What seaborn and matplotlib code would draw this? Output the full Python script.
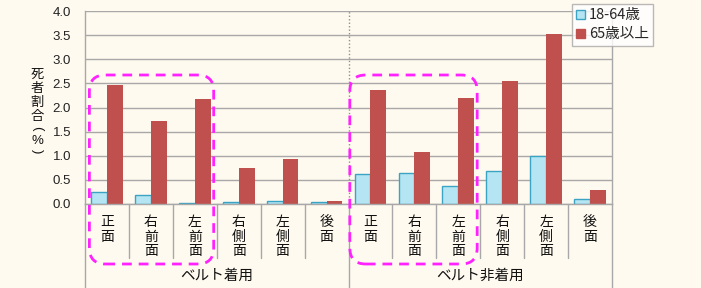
import matplotlib
matplotlib.use("Agg")
import matplotlib.pyplot as plt
import seaborn as sns
import pandas as pd
from matplotlib.patches import FancyBboxPatch, Patch

directions = ["正面", "右前面", "左前面", "右側面", "左側面", "後面"]
groups = ["ベルト着用", "ベルト非着用"]
series = ["18-64歳", "65歳以上"]
young_belt = [0.24, 0.19, 0.03, 0.05, 0.07, 0.04]
old_belt = [2.47, 1.72, 2.18, 0.75, 0.93, 0.06]
young_nobelt = [0.62, 0.64, 0.37, 0.69, 0.99, 0.10]
old_nobelt = [2.36, 1.08, 2.19, 2.54, 3.52, 0.30]
yticks = [0.0, 0.5, 1.0, 1.5, 2.0, 2.5, 3.0, 3.5, 4.0]
ylabel_chars = ["死", "者", "割", "合", "(", "%", ")"]

sns.set_theme(style="white")
plt.rcParams["font.family"] = ["Noto Sans CJK JP", "DejaVu Sans"]

BG = "#FFFAEF"
keys = [f"{g}|{d}" for g in groups for d in directions]
rows = []
for gi, g in enumerate(groups):
    yv = young_belt if gi == 0 else young_nobelt
    ov = old_belt if gi == 0 else old_nobelt
    for di, d in enumerate(directions):
        rows.append({"key": f"{g}|{d}", "series": series[0], "val": yv[di]})
        rows.append({"key": f"{g}|{d}", "series": series[1], "val": ov[di]})
df = pd.DataFrame(rows)

fig = plt.figure(figsize=(7.01, 2.88), dpi=100, facecolor=BG)
ax = fig.add_axes([85/701, 84/288, (612-85)/701, (204-11)/288])
ax.set_facecolor(BG)

sns.barplot(data=df, x="key", y="val", hue="series", order=keys, hue_order=series,
            palette={series[0]: "#B5E5F3", series[1]: "#C0504D"}, width=0.72,
            saturation=1, ax=ax, legend=False)
for p in ax.patches[:12]:
    p.set_edgecolor("#3BA3C3")
    p.set_linewidth(1.0)
for p in ax.patches[12:]:
    p.set_edgecolor("#C0504D")
    p.set_linewidth(0)

ax.set_ylim(0, 4.0)
ax.set_xlim(-0.5, 11.5)
ax.set_yticks(yticks)
ax.set_yticklabels([f"{v:.1f}" for v in yticks], fontsize=9.5, color="#222222",
                   family=["Liberation Sans"])
ax.tick_params(axis="y", length=0, pad=10)
ax.set_xticks([])
ax.set_xlabel("")
ax.set_ylabel("")
ax.yaxis.grid(True, color="#A8A8A8", linewidth=1.0)
ax.set_axisbelow(True)
for s in ["left", "right", "bottom"]:
    ax.spines[s].set_color("#A8A8A8")
    ax.spines[s].set_linewidth(1.0)
ax.spines["top"].set_visible(False)

# dotted group divider inside plot
ax.axvline(5.5, color="#909090", linestyle=(0, (1, 1.5)), linewidth=1.0)

xt = ax.get_xaxis_transform()
axh = (204 - 11)
for i in range(12):
    bnd = i - 0.5
    if bnd in (-0.5, 5.5):
        continue
    ax.plot([bnd, bnd], [0, -(258 - 204) / axh], transform=xt, color="#A8A8A8",
            linewidth=1.0, clip_on=False)
for bnd in (-0.5, 5.5, 11.5):
    ax.plot([bnd, bnd], [0, -(290 - 204) / axh], transform=xt, color="#A8A8A8",
            linewidth=1.0, clip_on=False)

# category labels: one upright character per line
for i, k in enumerate(keys):
    d = k.split("|")[1]
    for j, ch in enumerate(d):
        ycen = 222 + j * 14.6
        ax.text(i, -(ycen - 204) / axh, ch, transform=xt, ha="center", va="center",
                fontsize=10, color="#111111")
for gi, g in enumerate(groups):
    ax.text(2.5 + 6 * gi, -(276 - 204) / axh, g, transform=xt, ha="center",
            va="center", fontsize=10.5, color="#111111")

# y label, stacked vertical (parentheses turned for vertical writing)
ylab_y = [74.5, 88.5, 102.5, 116.5, 128.5, 141, 151.5]
for ch, yy in zip(ylabel_chars, ylab_y):
    rot = -90 if ch in "()" else 0
    fig.text(37/701, 1 - yy/288, ch, ha="center", va="center", rotation=rot,
             rotation_mode="anchor" if rot else "default",
             fontsize=9.5, color="#111111",
             family=["Liberation Sans"] if ch in "()%" else None)

# legend
handles = [Patch(facecolor="#B5E5F3", edgecolor="#3BA3C3", linewidth=1.0),
           Patch(facecolor="#C0504D", edgecolor="#C0504D")]
leg = fig.legend(handles, series, loc="upper left", bbox_to_anchor=(572/701, 1 - 4/288),
                 frameon=True, fontsize=10.5, handlelength=0.6, handleheight=0.6,
                 handletextpad=0.25, borderpad=0.3, labelspacing=0.35,
                 fancybox=False, borderaxespad=0)
leg.get_frame().set_edgecolor("#A8A8A8")
leg.get_frame().set_facecolor("white")
leg.get_frame().set_linewidth(1.0)

# magenta dashed rounded boxes around first three directions of each group
fig.canvas.draw()
for gi in range(2):
    x0 = ax.transData.transform((6 * gi - 0.4 if gi == 0 else 6 * gi - 0.47, 0))[0]
    x1 = ax.transData.transform((6 * gi + 2.43, 0))[0]
    ytop = 288 - 75
    ybot = 288 - 264
    box = FancyBboxPatch((x0, ybot), x1 - x0, ytop - ybot,
                         boxstyle="round,pad=0,rounding_size=16",
                         transform=None, fill=False, edgecolor="#FF22FF",
                         linewidth=2.0, linestyle=(0, (3.5, 2.5)), clip_on=False)
    fig.patches.append(box)

fig.savefig("out.png", dpi=100, facecolor=BG)
